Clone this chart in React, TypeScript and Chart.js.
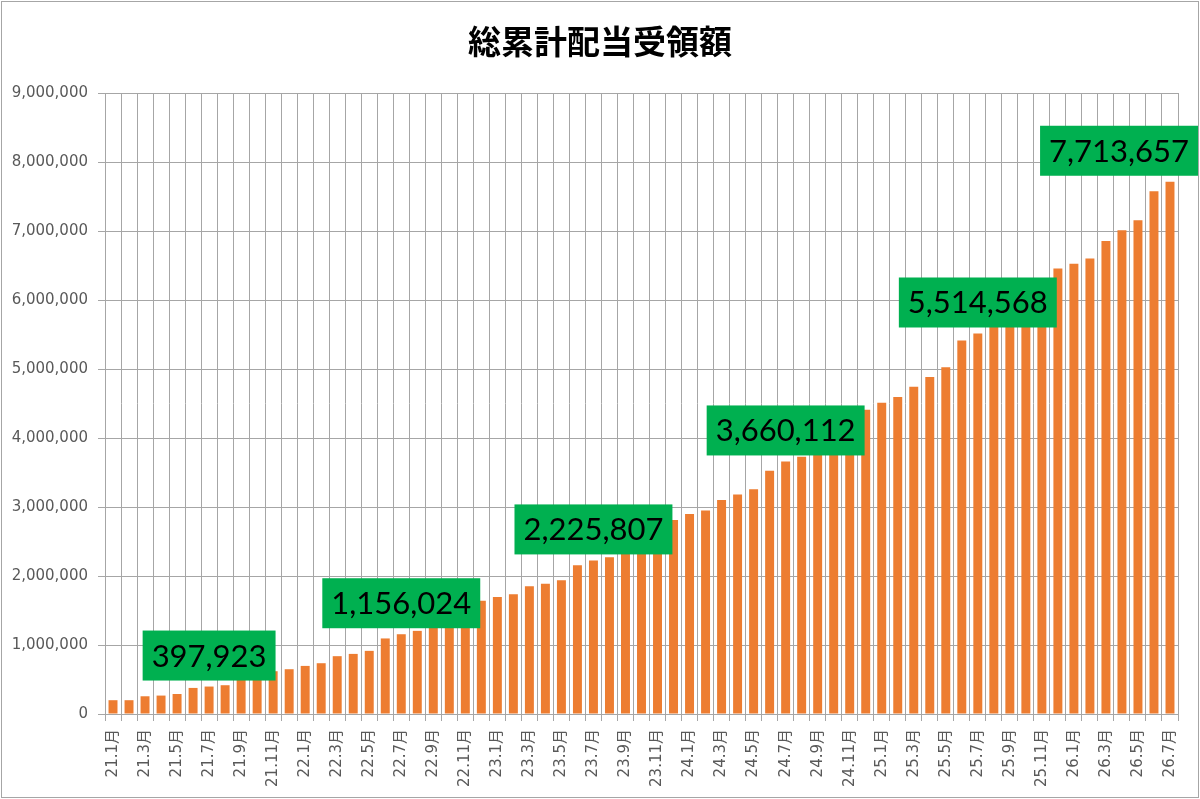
import React, { useEffect, useRef } from 'react';
import { Chart, registerables } from 'chart.js';

Chart.register(...registerables);

const TITLE = '総累計配当受領額';

const categories: string[] = [
  '21.1月', '21.2月', '21.3月', '21.4月', '21.5月', '21.6月', '21.7月', '21.8月', '21.9月', '21.10月', '21.11月', '21.12月',
  '22.1月', '22.2月', '22.3月', '22.4月', '22.5月', '22.6月', '22.7月', '22.8月', '22.9月', '22.10月', '22.11月', '22.12月',
  '23.1月', '23.2月', '23.3月', '23.4月', '23.5月', '23.6月', '23.7月', '23.8月', '23.9月', '23.10月', '23.11月', '23.12月',
  '24.1月', '24.2月', '24.3月', '24.4月', '24.5月', '24.6月', '24.7月', '24.8月', '24.9月', '24.10月', '24.11月', '24.12月',
  '25.1月', '25.2月', '25.3月', '25.4月', '25.5月', '25.6月', '25.7月', '25.8月', '25.9月', '25.10月', '25.11月', '25.12月',
  '26.1月', '26.2月', '26.3月', '26.4月', '26.5月', '26.6月', '26.7月',
];

const cumulativeDividends: number[] = [
  200000, 200000, 257000, 267000, 290000, 378000, 397923, 417000, 560000, 590000, 620000, 649000,
  697000, 736000, 838000, 871000, 915000, 1095000, 1156024, 1205000, 1300000, 1400000, 1520000, 1641000,
  1695000, 1734000, 1850000, 1888000, 1937000, 2155000, 2225807, 2271000, 2400000, 2550000, 2680000, 2810000,
  2900000, 2948000, 3103000, 3181000, 3259000, 3525000, 3660112, 3728000, 3850000, 4050000, 4250000, 4410000,
  4512000, 4594000, 4744000, 4885000, 5025000, 5412000, 5514568, 5700000, 5850000, 6000000, 6200000, 6458000,
  6526000, 6603000, 6855000, 7010000, 7155000, 7576000, 7713657,
];

const highlightIndices: number[] = [6, 18, 30, 42, 54, 66];

const Y_MIN = 0;
const Y_MAX = 9000000;
const Y_STEP = 1000000;

const AXIS_FONT = "'DejaVu Sans', 'Noto Sans CJK JP', sans-serif";
const GRID = '#a6a6a6';
const TEXT = '#595959';

const fmt = (v: number) => v.toLocaleString('en-US');

const decorPlugin = {
  id: 'decor',
  beforeDraw(chart: any) {
    const { ctx, width, height } = chart;
    ctx.save();
    ctx.fillStyle = '#ffffff';
    ctx.fillRect(0, 0, width, height);
    ctx.restore();
  },
  afterDatasetsDraw(chart: any) {
    const { ctx, width } = chart;
    const meta = chart.getDatasetMeta(0);
    ctx.save();
    ctx.font = "31px Lato, 'Open Sans', sans-serif";
    ctx.textAlign = 'center';
    ctx.textBaseline = 'middle';
    highlightIndices.forEach((i) => {
      const el = meta.data[i];
      if (!el) return;
      const text = fmt(cumulativeDividends[i]);
      const w = ctx.measureText(text).width + 18;
      const h = 50;
      let cx = el.x;
      if (cx + w / 2 > width - 2) cx = width - 2 - w / 2;
      const cy = el.y - 31;
      ctx.fillStyle = '#00B050';
      ctx.fillRect(cx - w / 2, cy - h / 2, w, h);
      ctx.fillStyle = '#000000';
      ctx.fillText(text, cx, cy + 1);
    });
    ctx.restore();
  },
  afterDraw(chart: any) {
    const { ctx, width, height } = chart;
    ctx.save();
    ctx.font = "bold 33px 'Noto Sans CJK JP', sans-serif";
    ctx.fillStyle = '#000000';
    ctx.textAlign = 'center';
    ctx.textBaseline = 'middle';
    ctx.fillText(TITLE, width / 2, 41);
    ctx.strokeStyle = '#a6a6a6';
    ctx.lineWidth = 1;
    ctx.strokeRect(1.5, 1.5, width - 3, height - 3);
    ctx.restore();
  },
};

export default function App() {
  const ref = useRef<HTMLCanvasElement | null>(null);

  useEffect(() => {
    document.body.style.margin = '0';
    const canvas = ref.current;
    if (!canvas) return;
    const chart = new Chart(canvas, {
      type: 'bar',
      data: {
        labels: categories,
        datasets: [
          {
            label: TITLE,
            data: cumulativeDividends,
            backgroundColor: '#ED7D31',
            borderWidth: 0,
            categoryPercentage: 1,
            barPercentage: 0.56,
          },
        ],
      },
      options: {
        responsive: false,
        animation: false,
        devicePixelRatio: 1,
        layout: { padding: { top: 93, right: 22, bottom: 0, left: 0 } },
        plugins: {
          legend: { display: false },
          title: { display: false },
          tooltip: { enabled: false },
        },
        scales: {
          x: {
            offset: true,
            grid: {
              display: true,
              offset: true,
              color: GRID,
              lineWidth: 1,
              tickLength: 7,
              drawTicks: true,
            },
            border: { display: true, color: GRID },
            ticks: {
              autoSkip: false,
              maxRotation: 90,
              minRotation: 90,
              padding: 8,
              color: TEXT,
              font: { family: AXIS_FONT, size: 15 },
              callback: (_v: any, index: number) => (index % 2 === 0 ? categories[index] : ''),
            },
            afterFit: (scale: any) => {
              scale.height = 85;
            },
          },
          y: {
            min: Y_MIN,
            max: Y_MAX,
            grid: { color: GRID, lineWidth: 1, tickLength: 7 },
            border: { display: true, color: GRID },
            ticks: {
              stepSize: Y_STEP,
              padding: 10,
              color: TEXT,
              font: { family: AXIS_FONT, size: 15 },
              callback: (v: any) => fmt(Number(v)),
            },
            afterFit: (scale: any) => {
              scale.width = 105;
            },
          },
        },
      },
      plugins: [decorPlugin],
    });
    return () => chart.destroy();
  }, []);

  return (
    <div style={{ width: 1200, height: 799 }}>
      <canvas ref={ref} width={1200} height={799} style={{ display: 'block', width: 1200, height: 799 }} />
    </div>
  );
}
